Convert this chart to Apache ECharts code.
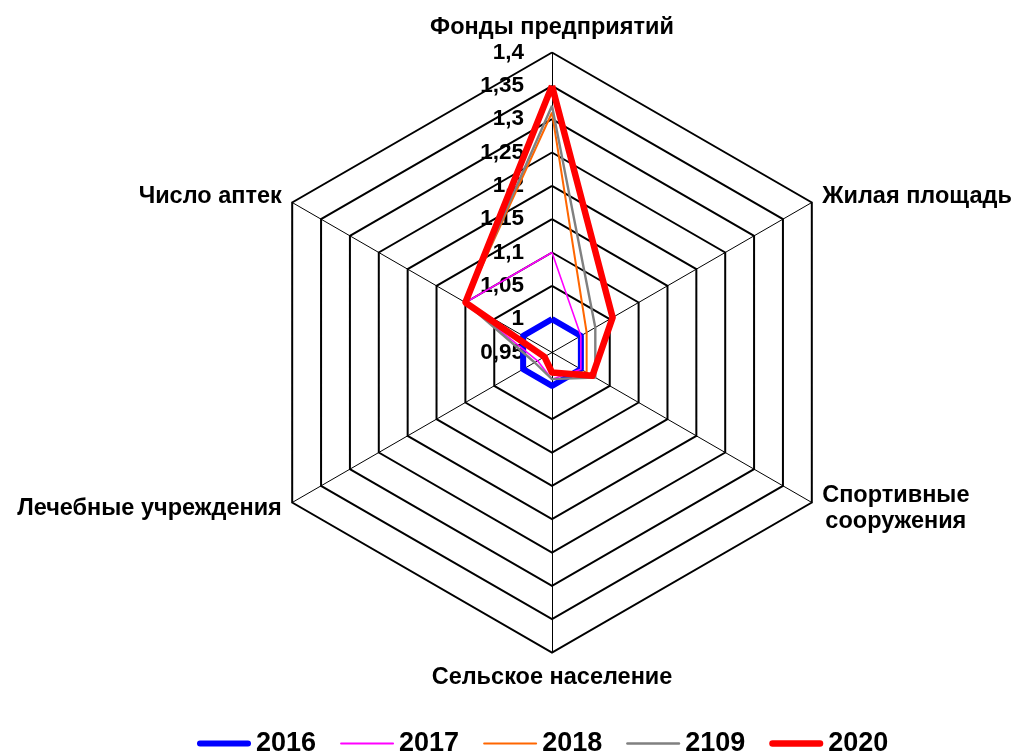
<!DOCTYPE html>
<html>
<head>
<meta charset="utf-8">
<script src="https://cdn.jsdelivr.net/npm/echarts@6/dist/echarts.min.js"></script>
<style>
html,body{margin:0;padding:0;background:#fff;}
#chart{width:1016px;height:751px;}
</style>
</head>
<body>
<div id="chart"></div>
<script>
// Categories listed clockwise from the top, as seen in the chart
var categories = ['Фонды предприятий', 'Жилая площадь', 'Спортивные\nсооружения', 'Сельское население', 'Лечебные учреждения', 'Число аптек'];
var seriesNames = ['2016', '2017', '2018', '2109', '2020'];
var v2016 = [1.00, 1.00, 1.00, 1.00, 1.00, 1.00];
var v2017 = [1.10, 1.00, 1.00, 0.99, 0.975, 1.10];
var v2018 = [1.31, 1.01, 1.01, 0.98, 0.965, 1.10];
var v2109 = [1.32, 1.025, 1.025, 0.99, 0.98, 1.10];
var v2020 = [1.35, 1.055, 1.02, 0.98, 0.963, 1.10];
var axisMin = 0.95, axisMax = 1.4, axisSplits = 9;

var colors = ['#0000FF', '#FF00FF', '#FF6600', '#808080', '#FF0000'];
var widths = [6, 1.6, 2, 2.4, 6.5];
var allValues = [v2016, v2017, v2018, v2109, v2020];

// ECharts places indicators counter-clockwise; reorder clockwise list
var order = [0, 5, 4, 3, 2, 1];
var FONT = 'Liberation Sans, Arial, sans-serif';

var indicator = order.map(function (i, k) {
  var ind = { name: categories[i], min: axisMin, max: axisMax };
  if (k === 0) ind.axisLabel = { show: true };
  return ind;
});

function legendIcon(h) {
  var y0 = (14 - h) / 2, y1 = y0 + h, r = h / 2;
  return 'path://M0,0 M54,14 M' + r + ',' + y0 + ' L' + (54 - r) + ',' + y0 +
    ' A' + r + ',' + r + ' 0 0 1 ' + (54 - r) + ',' + y1 +
    ' L' + r + ',' + y1 + ' A' + r + ',' + r + ' 0 0 1 ' + r + ',' + y0 + ' Z';
}

var chart = echarts.init(document.getElementById('chart'), null, { renderer: 'canvas' });
chart.setOption({
  backgroundColor: '#ffffff',
  animation: false,
  legend: {
    left: 192,
    top: 725,
    itemWidth: 54,
    itemHeight: 14,
    itemGap: 24,
    textStyle: { color: '#000', fontWeight: 'bold', fontSize: 27, fontFamily: FONT },
    data: seriesNames.map(function (n, i) {
      return { name: n, icon: legendIcon(Math.max(widths[i], 2)), itemStyle: { color: colors[i] } };
    })
  },
  radar: {
    center: [552, 352.5],
    radius: 300,
    shape: 'polygon',
    splitNumber: axisSplits,
    startAngle: 90,
    indicator: indicator,
    axisName: {
      color: '#000',
      fontWeight: 'bold',
      fontSize: 23.5,
      fontFamily: FONT,
      formatter: function (name) {
        return '{n|' + name + '}';
      },
      rich: {
        n: { color: '#000', fontWeight: 'bold', fontSize: 23.5, fontFamily: FONT, align: 'center', lineHeight: 26 }
      }
    },
    nameGap: 12,
    axisLine: { show: true, lineStyle: { color: '#000', width: 1 } },
    axisTick: { show: false },
    splitLine: { show: true, lineStyle: { color: '#000', width: 2 } },
    splitArea: { show: false },
    axisLabel: {
      show: false,
      color: '#000',
      fontWeight: 'bold',
      fontSize: 22.5,
      fontFamily: FONT,
      margin: 28,
      padding: [4, 0, 0, 0],
      showMinLabel: true,
      showMaxLabel: true,
      formatter: function (v) {
        return String(+(+v).toFixed(2)).replace('.', ',');
      }
    }
  },
  series: [{
    type: 'radar',
    symbol: 'none',
    silent: true,
    data: allValues.map(function (vals, s) {
      return {
        name: seriesNames[s],
        value: order.map(function (i) { return vals[i]; }),
        lineStyle: { color: colors[s], width: widths[s] },
        itemStyle: { color: colors[s] },
        symbol: 'none'
      };
    })
  }]
});
</script>
</body>
</html>
